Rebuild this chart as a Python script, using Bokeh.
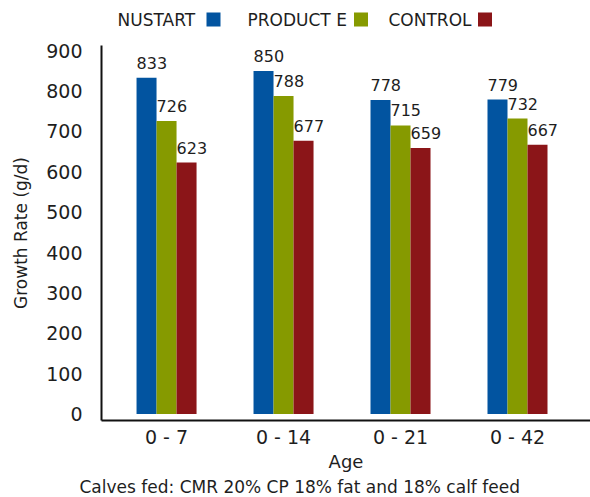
from bokeh.plotting import figure
from bokeh.layouts import column
from bokeh.models import Range1d, FixedTicker, Title
from bokeh.core.properties import value
from bokeh.embed import file_html
from bokeh.resources import INLINE

# ---- data ----
ages = ["0 - 7", "0 - 14", "0 - 21", "0 - 42"]
series = ["NUSTART", "PRODUCT E", "CONTROL"]
nustart = [833, 850, 778, 779]
product_e = [726, 788, 715, 732]
control = [623, 677, 659, 667]
y_ticks = [0, 100, 200, 300, 400, 500, 600, 700, 800, 900]
caption = "Calves fed: CMR 20% CP 18% fat and 18% calf feed"

# ---- style ----
FONT = "DejaVu Sans"
TXT = "#1e1e1e"
colors = ["#0254a0", "#869a00", "#8b1518"]
W = 590
FRAME_LEFT = 101
bar_w = 0.171
offsets = [-bar_w, 0.0, bar_w]

# ---- legend strip (label first, swatch after); frame aligns with main frame ----
leg_h = 37
leg = figure(width=W, height=leg_h, output_backend="svg", toolbar_location=None,
             x_range=Range1d(FRAME_LEFT, W), y_range=Range1d(leg_h, 0),
             x_axis_type=None, y_axis_type=None,
             min_border_left=FRAME_LEFT, min_border_right=0,
             min_border_top=0, min_border_bottom=0)
leg.outline_line_color = None
leg.grid.visible = False
legend_text_x = [117, 247, 388]
legend_box_x = [213, 360.5, 484.5]
leg.text(x=legend_text_x, y=[19.5] * 3, text=series, text_align="left",
         text_baseline="middle", text_font=value(FONT), text_font_size="17px",
         text_color=TXT)
leg.rect(x=legend_box_x, y=[19] * 3, width=14, height=14, fill_color=colors,
         line_color=None)

# ---- main chart ----
p = figure(width=W, height=460, output_backend="svg", toolbar_location=None,
           x_range=Range1d(-0.556, 3.624), y_range=Range1d(-16, 913),
           min_border_left=FRAME_LEFT, min_border_right=0, min_border_top=8,
           min_border_bottom=77)
p.outline_line_color = None
p.grid.visible = False

idx = list(range(len(ages)))
for vals, off, col in zip([nustart, product_e, control], offsets, colors):
    xs = [i + off for i in idx]
    p.vbar(x=xs, top=vals, bottom=0, width=bar_w, fill_color=col, line_color=None)
    p.text(x=[x - bar_w / 2 for x in xs], y=vals, text=[str(v) for v in vals],
           text_align="left", text_baseline="alphabetic", y_offset=-15,
           text_font=value(FONT), text_font_size="16px", text_color=TXT)

for ax in (p.xaxis[0], p.yaxis[0]):
    ax.major_tick_line_color = None
    ax.minor_tick_line_color = None
    ax.axis_line_color = "#111111"
    ax.axis_line_width = 2
    ax.major_label_text_font = FONT
    ax.major_label_text_font_size = "19px"
    ax.major_label_text_color = TXT
    ax.axis_label_text_font = FONT
    ax.axis_label_text_font_style = "normal"
    ax.axis_label_text_color = TXT

p.xaxis.ticker = FixedTicker(ticks=idx)
p.xaxis.major_label_overrides = {i: a for i, a in zip(idx, ages)}
p.xaxis.major_label_standoff = -1
p.xaxis.axis_label = "Age"
p.xaxis.axis_label_text_font_size = "18px"
p.xaxis.axis_label_standoff = 0

p.yaxis.ticker = FixedTicker(ticks=y_ticks)
p.yaxis.major_label_standoff = 13
p.yaxis.axis_label = "Growth Rate (g/d)"
p.yaxis.axis_label_text_font_size = "17px"
p.yaxis.axis_label_standoff = 12

# caption under the axis
p.add_layout(Title(text=caption, align="left", offset=-22, standoff=0,
                   text_font=FONT, text_font_size="17px", text_font_style="normal",
                   text_color=TXT), "below")

layout = column(leg, p, spacing=0)
open("out.html", "w").write(file_html(layout, INLINE))
